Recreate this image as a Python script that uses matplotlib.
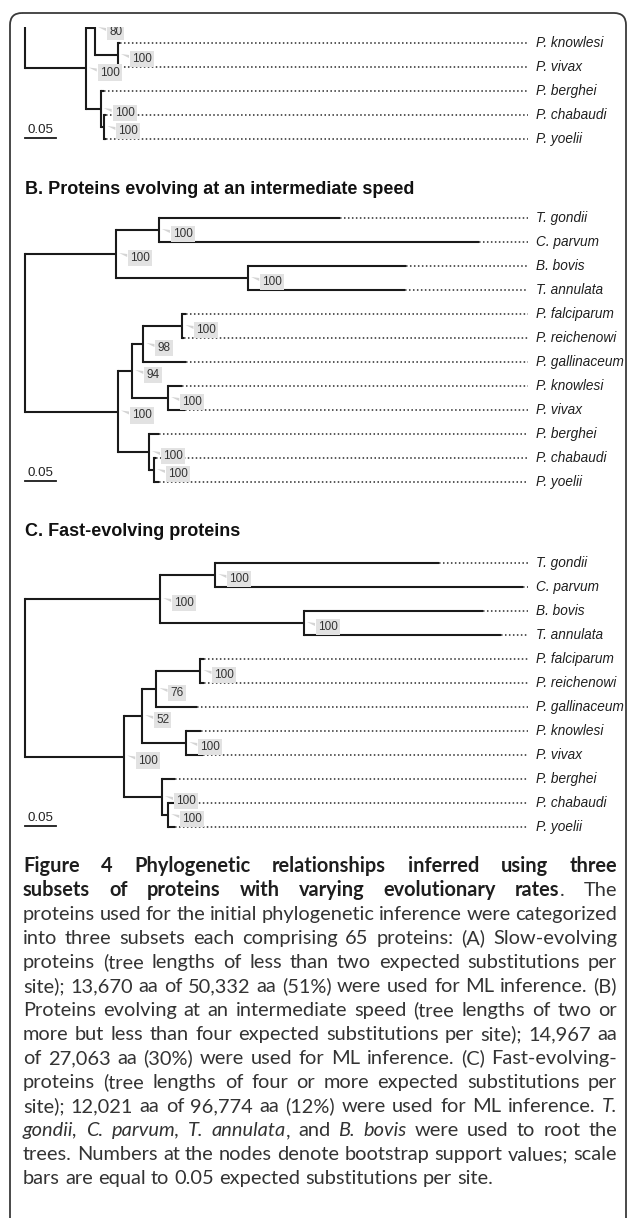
import matplotlib
matplotlib.use("Agg")
import matplotlib.pyplot as plt
from matplotlib.patches import FancyBboxPatch, Polygon

# trees, branch lengths in expected substitutions per site, node labels = bootstrap
tree_a = ("(((T. gondii:0.2,C. parvum:0.3)100:0.05,(B. bovis:0.2,T. annulata:0.2)100:0.15)100:0.1,"
          "((((P. falciparum:0.003,P. reichenowi:0.003)100:0.04,P. gallinaceum:0.04)100:0.02,"
          "(P. knowlesi:0.003,P. vivax:0.003)100:0.037)80:0.015,"
          "(P. berghei:0.005,(P. chabaudi:0.003,P. yoelii:0.003)100:0.006)100:0.024)100:0.098);")
tree_b = ("(((T. gondii:0.292,C. parvum:0.516)100:0.069,(B. bovis:0.255,T. annulata:0.253)100:0.213)100:0.147,"
          "((((P. falciparum:0.005,P. reichenowi:0.002)100:0.063,P. gallinaceum:0.068)98:0.018,"
          "(P. knowlesi:0.023,P. vivax:0.027)100:0.058)94:0.023,"
          "(P. berghei:0.016,(P. chabaudi:0.003,P. yoelii:0.008)100:0.008)100:0.050)100:0.150);")
tree_c = ("(((T. gondii:0.360,C. parvum:0.497)100:0.089,(B. bovis:0.289,T. annulata:0.318)100:0.232)100:0.218,"
          "((((P. falciparum:0.005,P. reichenowi:0.005)100:0.071,P. gallinaceum:0.065)76:0.023,"
          "(P. knowlesi:0.024,P. vivax:0.027)100:0.071)52:0.029,"
          "(P. berghei:0.021,(P. chabaudi:0.011,P. yoelii:0.011)100:0.010)100:0.061)100:0.160);")
scale_len = 0.05

titles = ["B. Proteins evolving at an intermediate speed", "C. Fast-evolving proteins"]

caption = [
    [("Figure 4 Phylogenetic relationships inferred using three", "b")],
    [("subsets of proteins with varying evolutionary rates", "b"), (". The", "r")],
    [("proteins used for the initial phylogenetic inference were categorized", "r")],
    [("into three subsets each comprising 65 proteins: (A) Slow-evolving", "r")],
    [("proteins (tree lengths of less than two expected substitutions per", "r")],
    [("site); 13,670 aa of 50,332 aa (51%) were used for ML inference. (B)", "r")],
    [("Proteins evolving at an intermediate speed (tree lengths of two or", "r")],
    [("more but less than four expected substitutions per site); 14,967 aa", "r")],
    [("of 27,063 aa (30%) were used for ML inference. (C) Fast-evolving-", "r")],
    [("proteins (tree lengths of four or more expected substitutions per", "r")],
    [("site); 12,021 aa of 96,774 aa (12%) were used for ML inference. ", "r"), ("T.", "i")],
    [("gondii, C. parvum, T. annulata", "i"), (", and ", "r"), ("B. bovis", "i"),
     (" were used to root the", "r")],
    [("trees. Numbers at the nodes denote bootstrap support values; scale", "r")],
    [("bars are equal to 0.05 expected substitutions per site.", "r")],
]

W, H = 627, 1218
PXU = 620.0     # pixels per substitution unit
ROOT_PX = 25.0
STEP = 24.0     # pixels between leaves
LEADER_END = (528 - ROOT_PX) / PXU
LABEL_X = (536 - ROOT_PX) / PXU
LW = 1.5
INK = "#1a1a1a"


def parse_newick(s):
    s = s.strip().rstrip(";")
    pos = 0

    def node():
        nonlocal pos
        kids = []
        if s[pos] == "(":
            pos += 1
            while True:
                kids.append(node())
                if s[pos] == ",":
                    pos += 1
                    continue
                if s[pos] == ")":
                    pos += 1
                    break
        start = pos
        while pos < len(s) and s[pos] not in ",():":
            pos += 1
        name = s[start:pos].strip()
        length = 0.0
        if pos < len(s) and s[pos] == ":":
            pos += 1
            start = pos
            while pos < len(s) and s[pos] not in ",()":
                pos += 1
            length = float(s[start:pos])
        return {"name": name, "len": length, "kids": kids}

    return node()


def layout(tree):
    count = [0]

    def walk(n, x):
        n["x"] = x + n["len"]
        if n["kids"]:
            for k in n["kids"]:
                walk(k, n["x"])
            n["y"] = (n["kids"][0]["y"] + n["kids"][-1]["y"]) / 2
        else:
            n["y"] = count[0]
            count[0] += 1

    tree["len"] = 0.0
    walk(tree, 0.0)
    return count[0]


def shown(ax, y):
    lo, hi = ax.get_ylim()
    return hi - 0.2 <= y <= lo


def support(ax, x, y, s):
    if not shown(ax, y):
        return
    bx = x + 11 / PXU
    by = y + 4 / STEP
    ax.add_patch(Polygon([(x + 3 / PXU, y - 1 / STEP), (bx, by - 4 / STEP), (bx, by - 1 / STEP)],
                         closed=True, fc="#d4d4d4", ec="none", clip_on=True))
    ax.text(x + 14 / PXU, by, s, fontsize=8.5, color="#333333", ha="left", va="center",
            family="Liberation Sans", clip_on=True,
            bbox=dict(boxstyle="square,pad=0.18", fc="#e2e2e2", ec="none"))


def draw(ax, n):
    if n["kids"]:
        ys = [k["y"] for k in n["kids"]]
        ax.plot([n["x"], n["x"]], [min(ys), max(ys)], color=INK, lw=LW,
                solid_capstyle="projecting")
        for k in n["kids"]:
            ax.plot([n["x"], k["x"]], [k["y"], k["y"]], color=INK, lw=LW,
                    solid_capstyle="butt")
            draw(ax, k)
        if n["name"]:
            support(ax, n["x"], n["y"], n["name"])
    else:
        if n["x"] < LEADER_END:
            ax.plot([n["x"], LEADER_END], [n["y"], n["y"]], color="#2a2a2a", lw=1.1,
                    linestyle=(0, (1, 1.6)))
        if shown(ax, n["y"]):
            ax.text(LABEL_X, n["y"], n["name"], fontsize=9.8, style="italic", color="#1e1e1e",
                    ha="left", va="center", family="Liberation Sans", clip_on=True)


fig = plt.figure(figsize=(W / 100, H / 100), dpi=100)
bg = fig.add_axes([0, 0, 1, 1])
bg.set_xlim(0, W)
bg.set_ylim(H, 0)
bg.axis("off")

# rounded frame
bg.add_patch(FancyBboxPatch((10, 13), 616, 1300, boxstyle="round,pad=0,rounding_size=12",
                            fc="none", ec="#3a3a3a", lw=1.3))


def panel(tree_str, top, bottom, first_leaf_px):
    tree = parse_newick(tree_str)
    nleaf = layout(tree)
    ax = fig.add_axes([0, 1 - bottom / H, 1, (bottom - top) / H])
    ax.set_xlim(-ROOT_PX / PXU, (W - ROOT_PX) / PXU)
    ax.set_ylim((bottom - first_leaf_px) / STEP, (top - first_leaf_px) / STEP)
    ax.axis("off")
    ax.patch.set_alpha(0)
    draw(ax, tree)
    last = nleaf - 1
    ax.plot([0, scale_len], [last - 1 / STEP, last - 1 / STEP], color=INK, lw=1.3)
    ax.text(scale_len / 2, last - 9 / STEP, "0.05", fontsize=9.6, ha="center", va="center",
            color="#222222", family="Liberation Sans")


panel(tree_a, 26.5, 150, 43 - 7 * STEP)
panel(tree_b, 200, 495, 218)
panel(tree_c, 545, 845, 563)

bg.text(25, 190, titles[0], fontsize=13, weight="bold", va="center", color="#111111",
        family="Liberation Sans")
bg.text(25, 532, titles[1], fontsize=13, weight="bold", va="center", color="#111111",
        family="Liberation Sans")

# caption, justified
renderer = fig.canvas.get_renderer()
CAP_FONT = "Lato"
styles = {"b": dict(weight="bold"), "r": dict(), "i": dict(style="italic")}


def measure(s, st, size):
    t = bg.text(0, 0, s, fontsize=size, family=CAP_FONT, **styles[st])
    w = t.get_window_extent(renderer).width
    t.remove()
    return w


def split_words(runs):
    words = [[]]
    for s, st in runs:
        parts = s.split(" ")
        for k, p in enumerate(parts):
            if k > 0:
                words.append([])
            if p:
                words[-1].append((p, st))
    return [w for w in words if w]


CAP_L, CAP_R = 23, 617

# pick the size so that the widest justified line just fits with normal spacing
base = 14.0
sp = measure("a a", "r", base) - measure("aa", "r", base)
widest = 0
for runs in caption[:-1]:
    words = split_words(runs)
    nat = sum(measure(p, st, base) for w in words for p, st in w) + sp * (len(words) - 1)
    widest = max(widest, nat)
cap_size = base * 600 / widest

space_w = measure("a a", "r", cap_size) - measure("aa", "r", cap_size)
base0 = 872
for li, runs in enumerate(caption):
    words = split_words(runs)
    widths = [[measure(p, st, cap_size) for p, st in w] for w in words]
    total = sum(sum(w) for w in widths)
    if li < len(caption) - 1 and len(words) > 1:
        gap = max((CAP_R - CAP_L - total) / (len(words) - 1), 0.9 * space_w)
    else:
        gap = space_w
    x = CAP_L
    y = base0 + li * 24
    for w, ws in zip(words, widths):
        for (p, st), pw in zip(w, ws):
            bg.text(x, y, p, fontsize=cap_size, family=CAP_FONT, va="baseline",
                    ha="left", color="#1e1e1e" if st == "b" else "#333333", **styles[st])
            x += pw
        x += gap

fig.savefig("out.png", dpi=100)
